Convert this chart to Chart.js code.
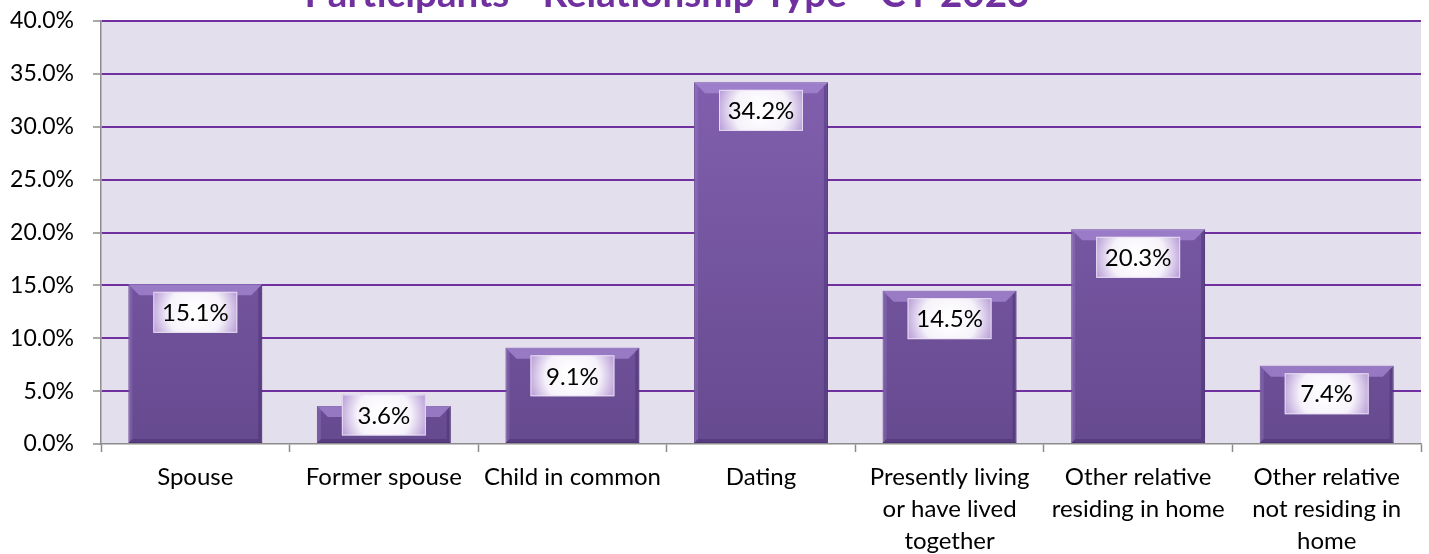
<!DOCTYPE html>
<html>
<head>
<meta charset="utf-8">
<script src="https://cdn.jsdelivr.net/npm/chart.js@4.4.1/dist/chart.umd.min.js"></script>
<style>
  html, body { margin: 0; padding: 0; background: #fff; }
  #wrap { width: 1429px; height: 554px; }
</style>
</head>
<body>
<div id="wrap"><canvas id="Chart"></canvas></div>
<script>
const titleText = 'Participants - Relationship Type - CY 2023';
const categories = [
    'Spouse',
    'Former spouse',
    'Child in common',
    'Dating',
    ['Presently living', 'or have lived', 'together'],
    ['Other relative', 'residing in home'],
    ['Other relative', 'not residing in', 'home']
];
const shares = [15.1, 3.6, 9.1, 34.2, 14.5, 20.3, 7.4];
const yTicks = [0, 5, 10, 15, 20, 25, 30, 35, 40];

const gridPurple = '#7030A0';
const axisGray = '#8c8c8c';

// plot background + title
const backdrop = {
    id: 'backdrop',
    beforeDraw(chart) {
        const { ctx, chartArea: a } = chart;
        ctx.save();
        ctx.fillStyle = '#E4DFEC';
        ctx.fillRect(a.left, a.top, a.right - a.left, a.bottom - a.top);
        ctx.restore();
    },
    afterDraw(chart) {
        const ctx = chart.ctx;
        ctx.save();
        ctx.fillStyle = '#7030A0';
        ctx.font = 'bold 39px Lato';
        ctx.textAlign = 'center';
        ctx.textBaseline = 'alphabetic';
        ctx.fillText(titleText, 667, 7, 725);
        ctx.restore();
    }
};

// bevel edges on the bars
const bevel = {
    id: 'bevel',
    afterDatasetsDraw(chart) {
        const ctx = chart.ctx;
        chart.getDatasetMeta(0).data.forEach(bar => {
            const l = bar.x - bar.width / 2, r = bar.x + bar.width / 2;
            const t = bar.y, b = bar.base;
            const d = Math.min(11, (b - t) / 2);
            ctx.save();
            ctx.fillStyle = 'rgba(170,140,215,0.7)';
            ctx.beginPath();
            ctx.moveTo(l, t); ctx.lineTo(r, t); ctx.lineTo(r - d, t + d); ctx.lineTo(l + d, t + d);
            ctx.closePath(); ctx.fill();
            ctx.fillStyle = 'rgba(60,35,100,0.35)';
            ctx.beginPath();
            ctx.moveTo(r, t); ctx.lineTo(r, b); ctx.lineTo(r - 4, b - 4); ctx.lineTo(r - 4, t + 4);
            ctx.closePath(); ctx.fill();
            ctx.beginPath();
            ctx.moveTo(l, b); ctx.lineTo(r, b); ctx.lineTo(r - 4, b - 4); ctx.lineTo(l + 4, b - 4);
            ctx.closePath(); ctx.fill();
            ctx.fillStyle = 'rgba(160,130,205,0.3)';
            ctx.beginPath();
            ctx.moveTo(l, t); ctx.lineTo(l, b); ctx.lineTo(l + 4, b - 4); ctx.lineTo(l + 4, t + 4);
            ctx.closePath(); ctx.fill();
            ctx.restore();
        });
    }
};

// value boxes
const valueLabels = {
    id: 'valueLabels',
    afterDatasetsDraw(chart) {
        const ctx = chart.ctx;
        const w = 84, h = 41;
        chart.getDatasetMeta(0).data.forEach((bar, i) => {
            const cy = Math.min(bar.y + 28, bar.base - 28);
            const x0 = bar.x - w / 2, y0 = cy - h / 2;
            ctx.save();
            const g = ctx.createRadialGradient(bar.x, cy, 4, bar.x, cy, w / 2 + 4);
            g.addColorStop(0, '#ffffff');
            g.addColorStop(0.55, '#f6f2fa');
            g.addColorStop(1, '#b69bd6');
            ctx.fillStyle = g;
            ctx.fillRect(x0, y0, w, h);
            ctx.strokeStyle = 'rgba(235,225,245,0.9)';
            ctx.lineWidth = 1;
            ctx.strokeRect(x0 + 0.5, y0 + 0.5, w - 1, h - 1);
            ctx.fillStyle = '#000';
            ctx.font = '24px Lato';
            ctx.textAlign = 'center';
            ctx.textBaseline = 'middle';
            ctx.fillText(shares[i].toFixed(1) + '%', bar.x, cy + 1);
            ctx.restore();
        });
    }
};

const ctx = document.getElementById('Chart');

new Chart(ctx, {
    type: 'bar',
    data: {
        labels: categories,
        datasets: [{
            data: shares,
            backgroundColor: c => {
                const a = c.chart.chartArea;
                if (!a) return '#7656a3';
                const g = c.chart.ctx.createLinearGradient(0, a.top, 0, a.bottom);
                g.addColorStop(0, '#8562b3');
                g.addColorStop(1, '#664a8f');
                return g;
            },
            borderColor: '#5a3f80',
            borderWidth: 1,
            borderSkipped: false,
            barPercentage: 0.71,
            categoryPercentage: 1
        }]
    },
    options: {
        responsive: true,
        maintainAspectRatio: false,
        animation: false,
        layout: { padding: { top: 21, right: 8, left: 0, bottom: 0 } },
        plugins: {
            legend: { display: false },
            tooltip: { enabled: false }
        },
        scales: {
            x: {
                grid: {
                    offset: true,
                    drawOnChartArea: false,
                    tickColor: axisGray,
                    tickLength: 8,
                    tickWidth: 1.5
                },
                border: { color: axisGray, width: 1.5 },
                ticks: {
                    color: '#000',
                    padding: 9,
                    maxRotation: 0,
                    autoSkip: false,
                    font: { family: 'Lato', size: 24, lineHeight: '32px' }
                },
                afterFit(scale) {
                    scale.height = 110;
                    scale.paddingLeft = 0;
                    scale.paddingRight = 0;
                }
            },
            y: {
                min: 0,
                max: 40,
                afterBuildTicks(scale) {
                    scale.ticks = yTicks.map(v => ({ value: v }));
                },
                grid: {
                    color: c => (c.tick && c.tick.value === 0) ? 'rgba(0,0,0,0)' : gridPurple,
                    lineWidth: 2,
                    tickColor: axisGray,
                    tickLength: 8,
                    tickWidth: 1.5
                },
                border: { color: axisGray, width: 1.5 },
                ticks: {
                    color: '#000',
                    padding: 19,
                    font: { family: 'Lato', size: 23 },
                    callback: v => v.toFixed(1) + '%'
                },
                afterFit(scale) {
                    scale.width = 101;
                    scale.paddingTop = 0;
                    scale.paddingBottom = 0;
                }
            }
        }
    },
    plugins: [backdrop, bevel, valueLabels]
});
</script>
</body>
</html>
